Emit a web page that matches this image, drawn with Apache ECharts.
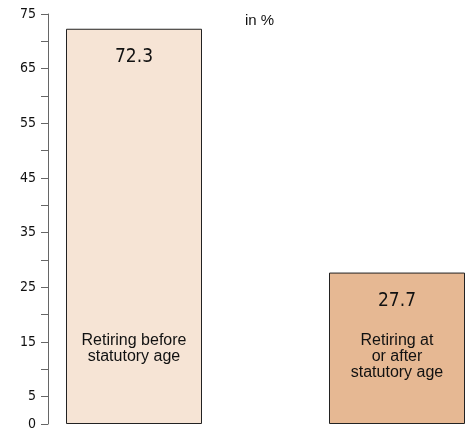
<!DOCTYPE html>
<html><head><meta charset="utf-8">
<script src="https://cdn.jsdelivr.net/npm/echarts@6/dist/echarts.min.js"></script>
<style>html,body{margin:0;padding:0;background:#fff}#c{width:469px;height:431px}</style>
</head><body><div id="c"></div>
<script>
const categories = ['Retiring before\nstatutory age', 'Retiring at\nor after\nstatutory age'];
const values = [72.3, 27.7];
const barColors = ['#F6E4D5', '#E6B893'];
const unitLabel = 'in %';

const chart = echarts.init(document.getElementById('c'));
chart.setOption({
  animation: false,
  grid: { left: 134, right: 72, top: 14, bottom: 7 },
  xAxis: {
    type: 'category', data: categories, boundaryGap: false,
    axisLine: { show: false }, axisTick: { show: false },
    axisLabel: { show: false }
  },
  yAxis: {
    type: 'value', min: 0, max: 75, interval: 5, offset: 86,
    splitLine: { show: false },
    axisLine: { show: true, lineStyle: { color: '#666', width: 1 } },
    axisTick: { show: true, length: 7, lineStyle: { color: '#666' } },
    axisLabel: {
      margin: 12, fontFamily: 'DejaVu Sans Condensed', fontSize: 14, color: '#111',
      formatter: v => (v === 0 || v % 10 === 5) ? String(v) : ''
    }
  },
  series: [{
    type: 'bar', barWidth: 136, clip: false,
    data: values.map((v, i) => ({ value: v, itemStyle: { color: barColors[i] } })),
    itemStyle: { borderColor: '#222', borderWidth: 1 },
    label: {
      show: true, position: 'insideTop', distance: 19,
      fontFamily: 'DejaVu Sans Condensed', fontSize: 19, color: '#111',
      formatter: p => p.value.toFixed(1)
    }
  }]
});

// category names placed inside the bars, at a common height
const labelTopY = 333;
chart.setOption({
  graphic: [{
    type: 'text', left: 245, top: 13, z: 100,
    style: { text: unitLabel, font: '15px "Liberation Sans"', fill: '#111' }
  }].concat(categories.map((c, i) => ({
    type: 'text', z: 100,
    x: chart.convertToPixel({ xAxisIndex: 0 }, i),
    y: labelTopY,
    style: {
      text: c, font: '16px "Liberation Sans"', fill: '#111',
      align: 'center', verticalAlign: 'top', lineHeight: 16
    }
  })))
});
</script></body></html>
